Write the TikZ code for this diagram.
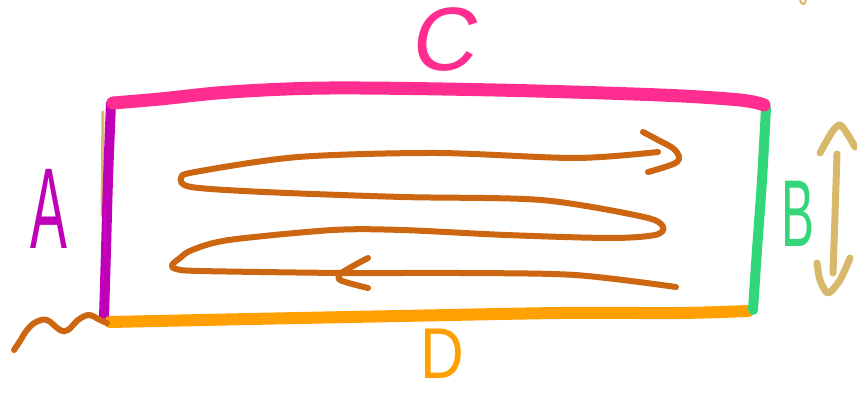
\documentclass[tikz,border=0pt]{standalone}
\usepackage{fontspec}
\setmainfont{Liberation Sans}
\definecolor{cpurple}{HTML}{C000B8}
\definecolor{cpink}{HTML}{FF2D8F}
\definecolor{cgreen}{HTML}{33D67A}
\definecolor{corange}{HTML}{FF9F00}
\definecolor{cbrown}{HTML}{CC6611}
\definecolor{ctan}{HTML}{D8B86A}
\begin{document}
\begin{tikzpicture}[x=1pt,y=-1pt,
  pen/.style={line cap=round,line join=round},
  letter/.style={inner sep=0pt,anchor=center}]
\useasboundingbox[fill=white] (0,0) rectangle (857,398);

% faint tan line behind left edge
\draw[pen,ctan,line width=3] (103,112) -- (102,215);
% left edge A
\draw[pen,cpurple,line width=10] plot[smooth] coordinates {(111,103) (108,180) (106,250) (104,318)};
% bottom edge D
\draw[pen,corange,line width=12] plot[smooth,tension=0.5] coordinates {(110,322) (250,319) (400,316) (560,313) (680,313) (748,311)};
% right edge B
\draw[pen,cgreen,line width=10] plot[smooth] coordinates {(766,108) (762,180) (757,250) (753,310)};
% top edge C
\draw[pen,cpink,line width=13] plot[smooth,tension=0.55] coordinates {(113,103) (160,99) (230,92) (330,88) (495,90) (660,95) (740,100) (764,105)};

% squiggle
\draw[pen,cbrown,line width=6] plot[smooth,tension=0.6] coordinates {(14,350) (20,341) (27,330) (36,322) (47,320) (60,330) (68,330) (78,320) (89,315) (100,320) (107,323)};

% zigzag
\draw[pen,cbrown,line width=6] plot[smooth,tension=0.5] coordinates {
  (676,287) (575,275) (460,273) (343,273) (200,271) (176,269) (172,265)
  (180,258) (192,250) (229,240)
  (333,230) (402,230) (506,235) (610,238) (655,235) (663,227) (644,217)
  (541,200) (402,197) (264,192) (191,187) (181,178) (195,172) (298,157)
  (437,153) (575,158) (658,152)};
% right arrowhead
\draw[pen,cbrown,line width=6] plot[smooth,tension=0.6] coordinates {(643,132) (658,140) (675,150) (677,162) (648,172)};
% left arrowhead
\draw[pen,cbrown,line width=6] plot[smooth,tension=0.5] coordinates {(368,258) (343,272) (340,280) (368,288)};

% tan double arrow
\draw[pen,ctan,line width=7] plot[smooth] coordinates {(837,154) (835,215) (833,273)};
\draw[pen,ctan,line width=7] plot[smooth,tension=0.5] coordinates {(820,153) (832,132) (840,125) (848,135) (855,147)};
\draw[pen,ctan,line width=7] plot[smooth,tension=0.5] coordinates {(817,263) (820,280) (828,293) (840,280) (850,258)};
% tiny tan mark at the top
\draw[pen,ctan,line width=2] (800,-1) .. controls (801,6) and (805,6) .. (806,-1);

% labels
\node[letter,text=cpink,font=\fontsize{90}{90}\selectfont,xslant=0.15] (lc) at (447,40) {C};
\node[letter,text=cpurple,font=\fontsize{115}{115}\selectfont,xscale=0.48] (la) at (49,209) {A};
\node[letter,text=cgreen,font=\fontsize{95}{95}\selectfont,xscale=0.52] (lb) at (798,214) {B};
\node[letter,text=corange,font=\fontsize{72}{72}\selectfont,xscale=0.84] (ld) at (442,354) {D};
\end{tikzpicture}
\end{document}
